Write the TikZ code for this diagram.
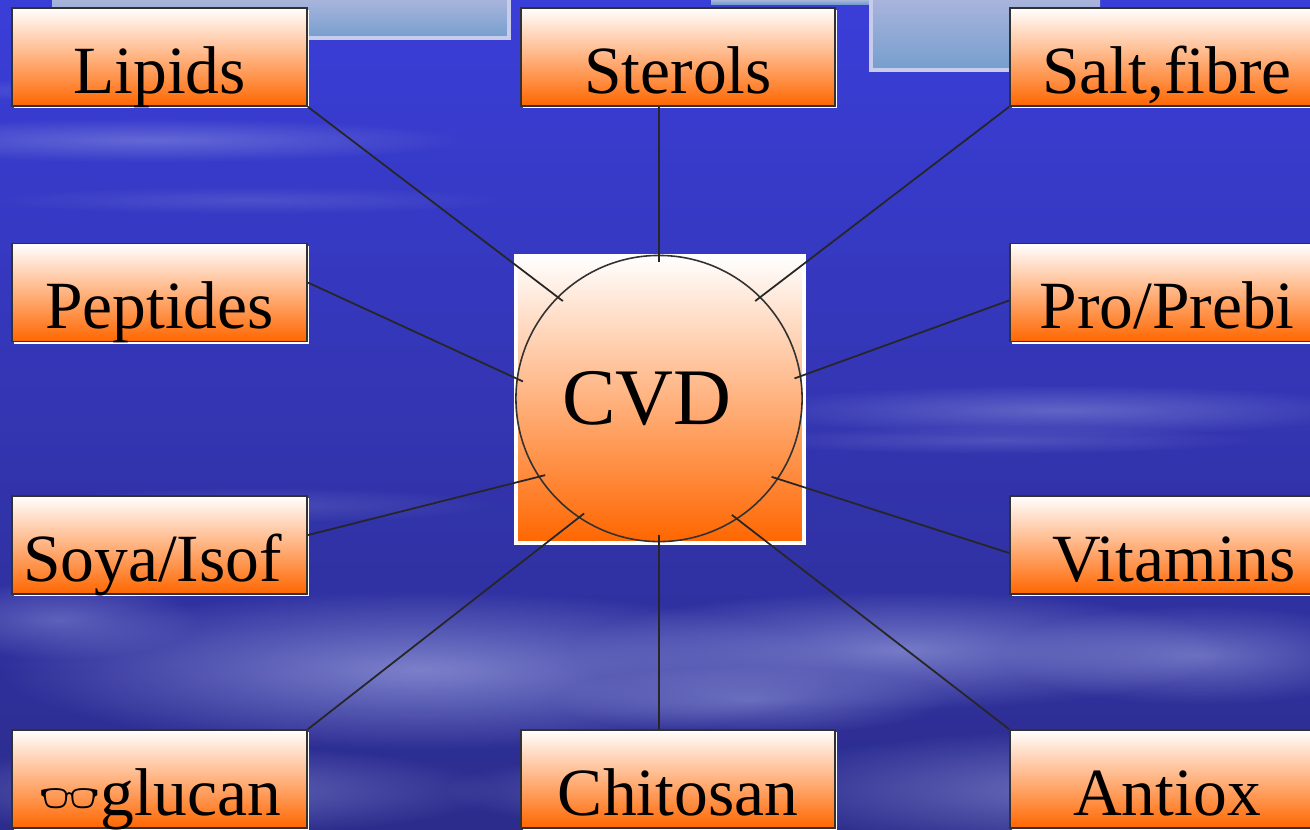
\documentclass[tikz,border=0pt]{standalone}
\usepackage{fontspec}
\setmainfont{Liberation Serif}
\newfontfamily\emojifont{Noto Emoji}
\usetikzlibrary{positioning,calc,fadings}
\definecolor{SkyTop}{RGB}{58,62,216}
\definecolor{SkyMid}{RGB}{42,40,176}
\definecolor{SkyLow}{RGB}{44,44,140}
\definecolor{Haze}{RGB}{165,172,228}
\definecolor{Pane}{RGB}{168,180,220}
\definecolor{PaneLow}{RGB}{118,158,205}
\definecolor{PaneEdge}{RGB}{200,204,236}
\definecolor{Tang}{RGB}{255,102,0}
\definecolor{Rim}{RGB}{50,50,50}
\tikzfading[name=softblob, inner color=transparent!0, outer color=transparent!100]
\tikzset{box/.style={rectangle,draw=Rim,line width=0.45pt,top color=white,bottom color=Tang,inner sep=0pt,minimum width=2.95cm,text height=0.85cm,text depth=0.13cm,font=\fontsize{19.2}{23}\selectfont,preaction={fill=white,transform canvas={xshift=0.6pt,yshift=-0.6pt}}}, wide/.style={minimum width=3.14cm}, hub/.style={circle,draw=Rim,line width=0.45pt,top color=white,bottom color=Tang,inner sep=0pt,minimum size=2.86cm,font=\fontsize{22.8}{27}\selectfont}, hubback/.style={rectangle,draw=white,line width=1pt,top color=white,bottom color=Tang,inner sep=0pt,minimum width=2.88cm,minimum height=2.87cm}, link/.style={draw=black!85,line width=0.5pt,shorten >=-2pt}, haze/.style={fill=Haze,path fading=softblob}}

\begin{document}
\begin{tikzpicture}[x=0.01cm,y=-0.01cm]
\useasboundingbox (0,0) rectangle (1310,829);
% sky
\shade[top color=SkyTop,middle color=SkyMid,bottom color=SkyLow] (0,0) rectangle (1310,829);
\foreach \cx/\cy/\rx/\ry/\op in {150/140/320/22/0.4, 250/200/260/14/0.2, 80/90/150/12/0.25, 1060/410/320/26/0.4, 1000/440/260/14/0.25, 260/505/240/18/0.2, 420/670/420/80/0.65, 900/650/330/60/0.6, 1200/655/200/50/0.5, 1080/790/340/60/0.5, 200/790/300/45/0.45, 640/790/200/35/0.35, 60/620/140/40/0.4, 750/700/200/35/0.45}
  \fill[haze,fill opacity=\op] (\cx,\cy) ellipse [x radius=\rx, y radius=\ry];
% panes at the top
\shade[top color=Pane,bottom color=PaneLow] (52,0) rectangle (509,38);
\draw[PaneEdge,line width=1pt] (52,38) -- (509,38) -- (509,0);
\shade[top color=Pane,bottom color=PaneLow] (711,0) rectangle (870,4);
\shade[top color=Pane,bottom color=PaneLow] (871,0) rectangle (1100,70);
\draw[PaneEdge,line width=1pt] (871,0) -- (871,70) -- (1100,70);

\node[hubback] (cvdback) at (660,399.5) {};
\node[hub] (cvd) at (659,398.5) {CVD\kern0.24cm};

\node[box] (lipids) at (159.5,57) {Lipids};
\node[box,wide] (sterols) at (678,57) {Sterols};
\node[box,wide] (salt) at (1167,57) {Salt,fibre};
\node[box] (peptides) at (159.5,292.5) {Peptides};
\node[box,wide] (prebi) at (1167,292.5) {Pro/Prebi};
\node[box] (soya) at (159.5,545) {Soya/Isof\kern0.14cm};
\node[box,wide] (vitamins) at (1167,545) {\kern0.14cm Vitamins};
\node[box] (glucan) at (159.5,779) {{\emojifont\fontsize{14}{14}\selectfont 👓}glucan};
\node[box,wide] (chitosan) at (678,779) {Chitosan};
\node[box,wide] (antiox) at (1167,779) {Antiox};

\draw[link] (lipids.south east) -- (cvd.135.6);
\draw[link] (cvd |- sterols.south) -- (cvd.90);
\draw[link] (salt.south west) -- (cvd.45.3);
\draw[link] ($(peptides.north east)!0.4!(peptides.south east)$) -- (cvd.172);
\draw[link] ($(prebi.north west)!0.58!(prebi.south west)$) -- (cvd.9);
\draw[link] ($(soya.north east)!0.4!(soya.south east)$) -- (cvd.213);
\draw[link] ($(vitamins.north west)!0.58!(vitamins.south west)$) -- (cvd.326);
\draw[link] (glucan.north east) -- (cvd.236);
\draw[link] (cvd |- chitosan.north) -- (cvd.270);
\draw[link] (antiox.north west) -- (cvd.303.5);
\end{tikzpicture}
\end{document}
